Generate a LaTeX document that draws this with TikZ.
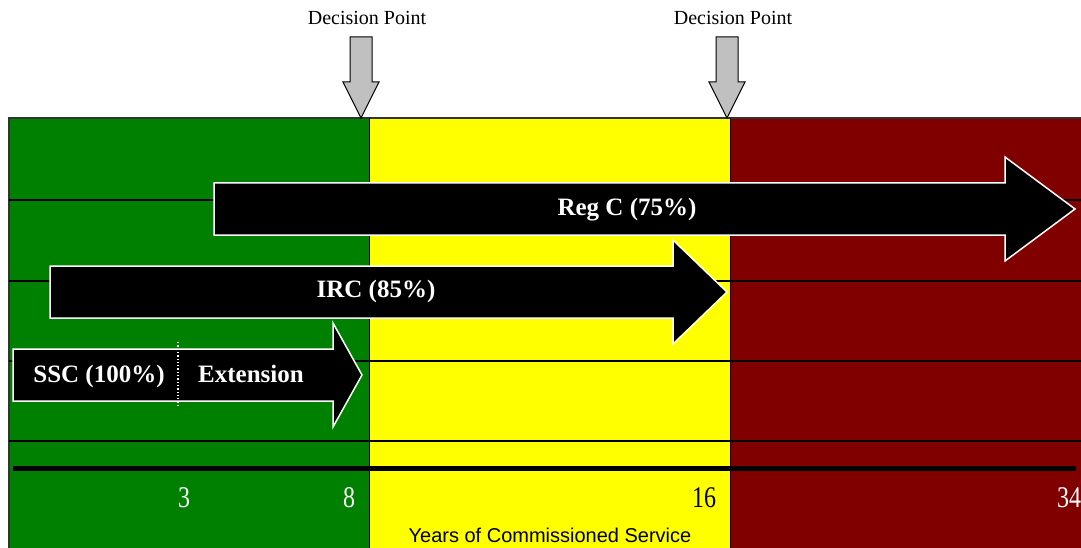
\documentclass[tikz,border=0pt]{standalone}
\usepackage{fontspec}
\setmainfont{Liberation Serif}
\newfontfamily\axisfont{Liberation Sans}
\newfontfamily\yearfont[FakeStretch=0.8]{Liberation Serif}

\definecolor{zonegreen}{RGB}{0,128,0}
\definecolor{zoneyellow}{RGB}{255,255,0}
\definecolor{zonered}{RGB}{128,0,0}
\definecolor{pointgray}{RGB}{192,192,192}

\tikzset{
  blockarrow/.style={fill=black, draw=white, line width=1.5pt, line join=miter},
  arrowtext/.style={anchor=base, text=white, font=\fontsize{25}{30}\selectfont\bfseries},
}

\begin{document}
\begin{tikzpicture}[x=1pt,y=-1pt]
  \useasboundingbox (0,0) rectangle (1081,548);

  % zones
  \fill[zonegreen] (9,118) rectangle (369,548);
  \fill[zoneyellow] (369,118) rectangle (730,548);
  \fill[zonered] (730,118) rectangle (1081,548);
  \draw[line width=1.4pt, black!80] (9,548) -- (9,118) -- (1081,118);
  \foreach \x in {369, 730}
    \draw[line width=1pt] (\x,118) -- (\x,548);
  \foreach \y in {200, 281, 361, 441}
    \draw[line width=1.3pt] (9,\y) -- (1081,\y);
  \draw[line width=5pt] (13,468) -- (1076,468);

  % decision points
  \foreach \n/\x in {1/361, 2/727} {
    \draw[fill=pointgray, line width=1pt] (\x-11,37) -- (\x+11,37) -- (\x+11,82)
      -- (\x+18,82) -- (\x,118) -- (\x-18,82) -- (\x-11,82) -- cycle;
    \node[anchor=base, font=\fontsize{20}{24}\selectfont] (dp-\n) at (\x+6,25) {Decision Point};
  }

  % programs
  \foreach \xl/\xh/\xt/\ym in {214/1005/1075/209, 50/673/727/292, 13/333/362/375}
    \draw[blockarrow] (\xl,\ym-26) -- (\xh,\ym-26) -- (\xh,\ym-52) -- (\xt,\ym)
      -- (\xh,\ym+52) -- (\xh,\ym+26) -- (\xl,\ym+26) -- cycle;
  \draw[white, dotted, line width=1.3pt] (178,342) -- (178,407);

  \node[arrowtext] (reg) at (627,215) {Reg C (75\%)};
  \node[arrowtext] (irc) at (376,297) {IRC (85\%)};
  \node[arrowtext] (ssc) at (99,382) {SSC (100\%)};
  \node[arrowtext] (ext) at (251,382) {Extension};

  % years
  \foreach \n/\x/\c in {3/184/white, 8/349/white, 16/704/black, 34/1069/white}
    \node[anchor=base, text=\c, font=\yearfont\fontsize{30}{34}\selectfont] (yr-\n) at (\x,507) {\n};
  \node[anchor=base, font=\axisfont\fontsize{20}{24}\selectfont] (axis) at (550,542) {Years of Commissioned Service};
\end{tikzpicture}
\end{document}
